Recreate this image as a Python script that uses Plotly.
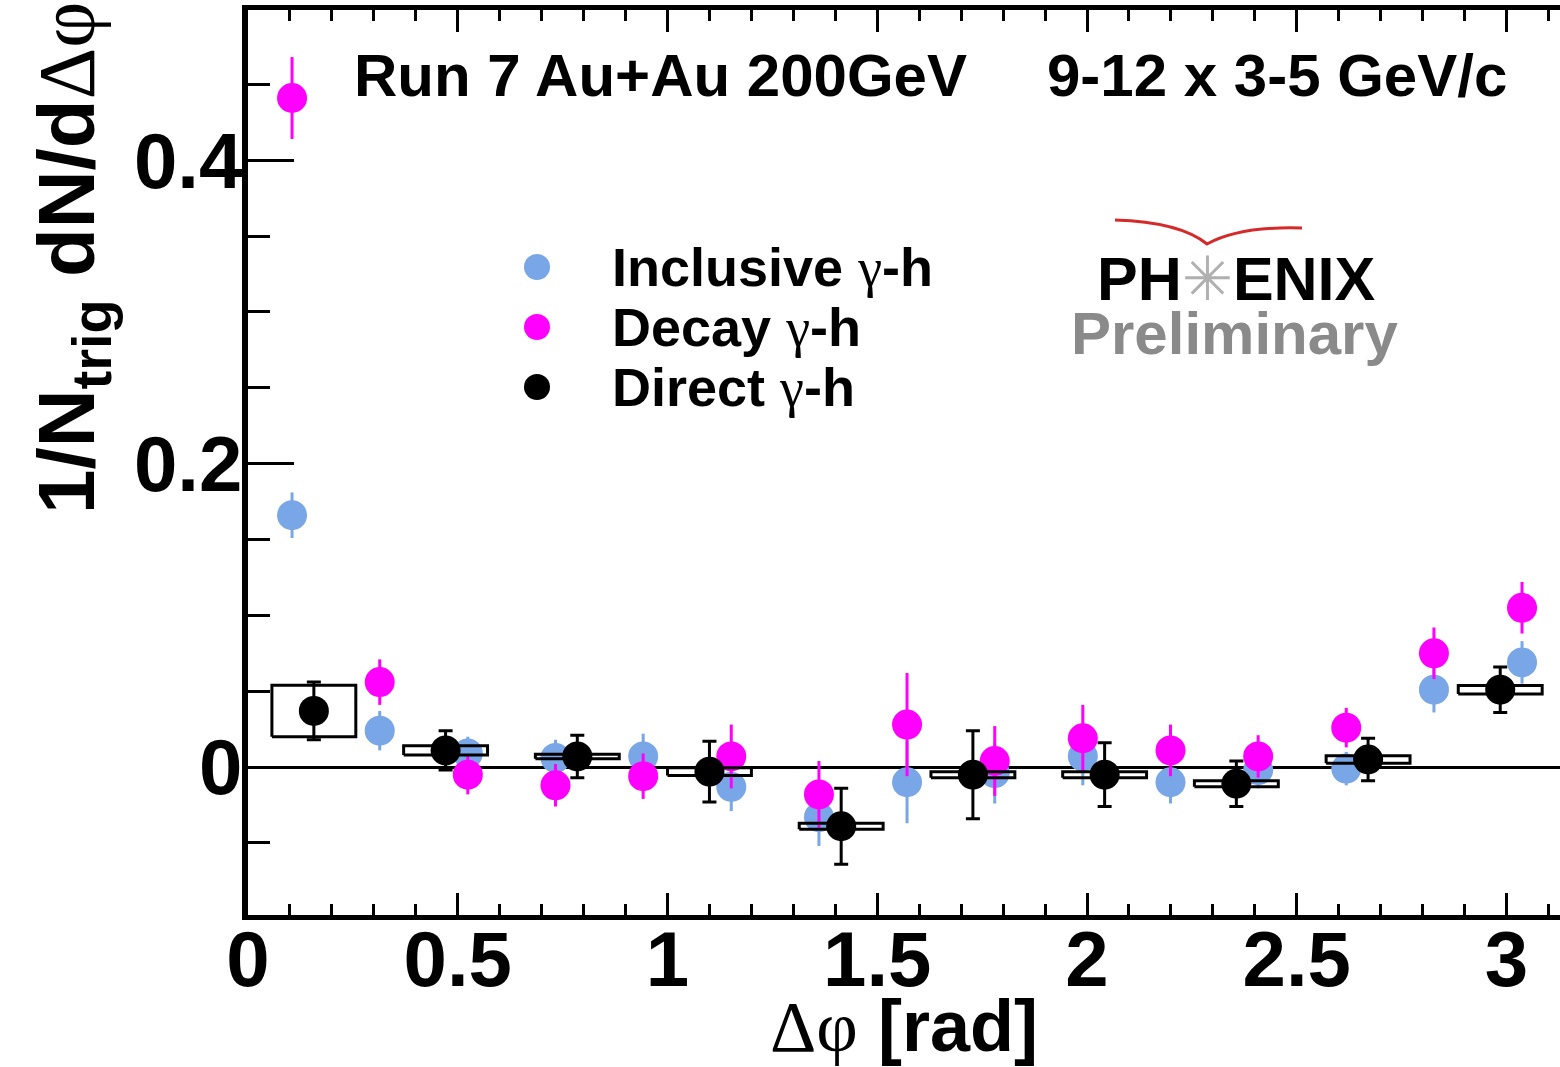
import plotly.graph_objects as go

# Δφ bin centres (15 bins over [0, π]) for inclusive / decay photons
dphi_fine = [0.105, 0.314, 0.524, 0.733, 0.942, 1.152, 1.361, 1.571,
             1.780, 1.990, 2.199, 2.408, 2.618, 2.827, 3.037]
# Δφ bin centres (10 bins over [0, π]) for direct photons
dphi_direct = [0.157, 0.471, 0.785, 1.100, 1.414, 1.728, 2.042, 2.356, 2.670, 2.985]

inclusive_y = [0.166, 0.024, 0.009, 0.006, 0.007, -0.013, -0.033, -0.010,
               -0.004, 0.007, -0.010, -0.002, -0.001, 0.051, 0.069]
inclusive_err = [0.015, 0.013, 0.011, 0.012, 0.015, 0.016, 0.019, 0.027,
                 0.020, 0.019, 0.014, 0.012, 0.011, 0.015, 0.014]

decay_y = [0.441, 0.056, -0.005, -0.012, -0.006, 0.007, -0.018, 0.028,
           0.004, 0.019, 0.011, 0.007, 0.026, 0.075, 0.105]
decay_err = [0.027, 0.015, 0.013, 0.014, 0.015, 0.021, 0.022, 0.034,
             0.023, 0.022, 0.017, 0.014, 0.013, 0.017, 0.017]

direct_y = [0.037, 0.011, 0.007, -0.003, -0.039, -0.005, -0.005, -0.011, 0.005, 0.051]
direct_err = [0.019, 0.013, 0.014, 0.020, 0.025, 0.029, 0.021, 0.015, 0.014, 0.015]
direct_sys = [0.017, 0.003, 0.0015, 0.0026, 0.002, 0.002, 0.002, 0.002, 0.0025, 0.0028]

series_labels = ["Inclusive", "Decay", "Direct"]

BLUE = "#78a6e6"
MAGENTA = "#ff00ff"
FONT = "Liberation Sans"
BOX_HALF_WIDTH = 0.1
GAMMA = "<span style='font-family:Liberation Serif;font-weight:normal'>γ</span>"
series_colors = [BLUE, MAGENTA, "black"]

fig = go.Figure()

fig.add_trace(go.Scatter(
    x=dphi_fine, y=inclusive_y, mode="markers", name=f"Inclusive {GAMMA}-h",
    marker=dict(color=BLUE, size=30),
    error_y=dict(type="data", array=inclusive_err, color=BLUE, thickness=3, width=0),
))
fig.add_trace(go.Scatter(
    x=dphi_fine, y=decay_y, mode="markers", name=f"Decay {GAMMA}-h",
    marker=dict(color=MAGENTA, size=30),
    error_y=dict(type="data", array=decay_err, color=MAGENTA, thickness=3, width=0),
))

# systematic-uncertainty boxes for the direct photon points
box_x, box_y = [], []
for x, y, s in zip(dphi_direct, direct_y, direct_sys):
    x0, x1 = x - BOX_HALF_WIDTH, x + BOX_HALF_WIDTH
    box_x += [x0, x1, x1, x0, x0, None]
    box_y += [y - s, y - s, y + s, y + s, y - s, None]
fig.add_trace(go.Scatter(
    x=box_x, y=box_y, mode="lines", line=dict(color="black", width=3),
    showlegend=False, hoverinfo="skip",
))

fig.add_trace(go.Scatter(
    x=dphi_direct, y=direct_y, mode="markers", name=f"Direct {GAMMA}-h",
    marker=dict(color="black", size=30),
    error_y=dict(type="data", array=direct_err, color="black", thickness=3, width=7),
))

tick_font = dict(family=FONT, size=78, color="black", weight="bold")

# plot-area geometry in pixels (used to place paper-referenced decorations)
L, T, W, H = 248, 10, 1312, 905


def px(xp):
    return (xp - L) / W


def py(yp):
    return (T + H - yp) / H


fig.update_layout(
    width=1560, height=1067,
    margin=dict(l=L, r=0, t=T, b=1067 - T - H),
    paper_bgcolor="white", plot_bgcolor="white",
    font=dict(family=FONT, color="black"),
    showlegend=False,
    xaxis=dict(
        range=[0, 3.1275], showgrid=False, zeroline=False, automargin=False,
        showline=True, linecolor="black", linewidth=5, mirror="ticks",
        ticks="inside", ticklen=22, tickwidth=3, tickcolor="black",
        tickmode="array", tickvals=[0, 0.5, 1, 1.5, 2, 2.5, 3],
        ticktext=["0", "0.5", "1", "1.5", "2", "2.5", "3"],
        minor=dict(ticks="inside", ticklen=11, tickwidth=3, tickcolor="black", dtick=0.1),
        tickfont=tick_font, ticklabelstandoff=-28,
        title=dict(text="<span style='font-family:Liberation Serif;font-weight:normal'>Δφ</span> [rad]",
                   font=dict(family=FONT, size=72, color="black", weight="bold"),
                   standoff=0),
    ),
    yaxis=dict(
        range=[-0.0975, 0.499], showgrid=False, automargin=False,
        zeroline=True, zerolinecolor="black", zerolinewidth=2.5,
        showline=True, linecolor="black", linewidth=6, mirror=False,
        ticks="inside", ticklen=46, tickwidth=3, tickcolor="black",
        tickmode="array", tickvals=[0, 0.2, 0.4], ticktext=["0", "0.2", "0.4"],
        minor=dict(ticks="inside", ticklen=22, tickwidth=3, tickcolor="black", dtick=0.05),
        tickfont=tick_font, ticklabelstandoff=-16,
    ),
    yaxis2=dict(
        overlaying="y", side="right", anchor="x", range=[-0.0975, 0.499],
        showgrid=False, zeroline=False, showline=False, showticklabels=False,
        automargin=False,
        ticks="inside", ticklen=46, tickwidth=3, tickcolor="black",
        tickmode="array", tickvals=[0, 0.2, 0.4],
        minor=dict(ticks="inside", ticklen=22, tickwidth=3, tickcolor="black", dtick=0.05),
    ),
)

# legend: symbol + label for each series
for i, (label, color) in enumerate(zip(series_labels, series_colors)):
    row_y = py(267 + 60 * i)
    fig.add_shape(
        type="circle", xref="paper", yref="paper",
        xsizemode="pixel", ysizemode="pixel",
        xanchor=px(537), yanchor=row_y, x0=-13, x1=13, y0=-13, y1=13,
        fillcolor=color, line=dict(width=0), layer="above",
    )
    fig.add_annotation(
        xref="paper", yref="paper", x=px(610), y=row_y,
        xanchor="left", yanchor="middle", showarrow=False,
        text=f"{label} {GAMMA}-h",
        font=dict(family=FONT, size=54, color="black", weight="bold"),
    )

# vertical axis title, top-aligned
fig.add_annotation(
    xref="paper", yref="paper", x=px(72), y=py(0), xanchor="center", yanchor="top",
    textangle=-90, showarrow=False,
    text="1/N<sub>trig</sub> dN/d<span style='font-family:Liberation Serif;font-weight:normal'>Δφ</span>",
    font=dict(family=FONT, size=80, color="black", weight="bold"),
)

# run / kinematic selection header
fig.add_annotation(
    xref="paper", yref="paper", x=px(352), y=py(76),
    xanchor="left", yanchor="middle", showarrow=False,
    text="Run 7 Au+Au 200GeV",
    font=dict(family=FONT, size=60, color="black", weight="bold"),
)
fig.add_annotation(
    xref="paper", yref="paper", x=px(1045), y=py(76),
    xanchor="left", yanchor="middle", showarrow=False,
    text="9-12 x 3-5 GeV/c",
    font=dict(family=FONT, size=60, color="black", weight="bold"),
)

# collaboration mark
fig.add_annotation(
    xref="paper", yref="paper", x=px(1236), y=py(278),
    xanchor="center", yanchor="middle", showarrow=False,
    text="PH<span style='font-family:DejaVu Sans;color:#b0b0b0;font-weight:normal'>✳</span>ENIX",
    font=dict(family=FONT, size=61, color="black", weight="bold"),
)
fig.add_annotation(
    xref="paper", yref="paper", x=px(1234), y=py(334),
    xanchor="center", yanchor="middle", showarrow=False,
    text="Preliminary",
    font=dict(family=FONT, size=60, color="#8a8a8a", weight="bold"),
)
fig.add_shape(
    type="path", xref="paper", yref="paper", layer="above",
    path=(f"M {px(1115)} {py(220)} "
          f"Q {px(1180)} {py(222)} {px(1207)} {py(244)} "
          f"Q {px(1240)} {py(226)} {px(1302)} {py(228)}"),
    line=dict(color="#d42a2a", width=3),
)

fig.write_html("out.html")
